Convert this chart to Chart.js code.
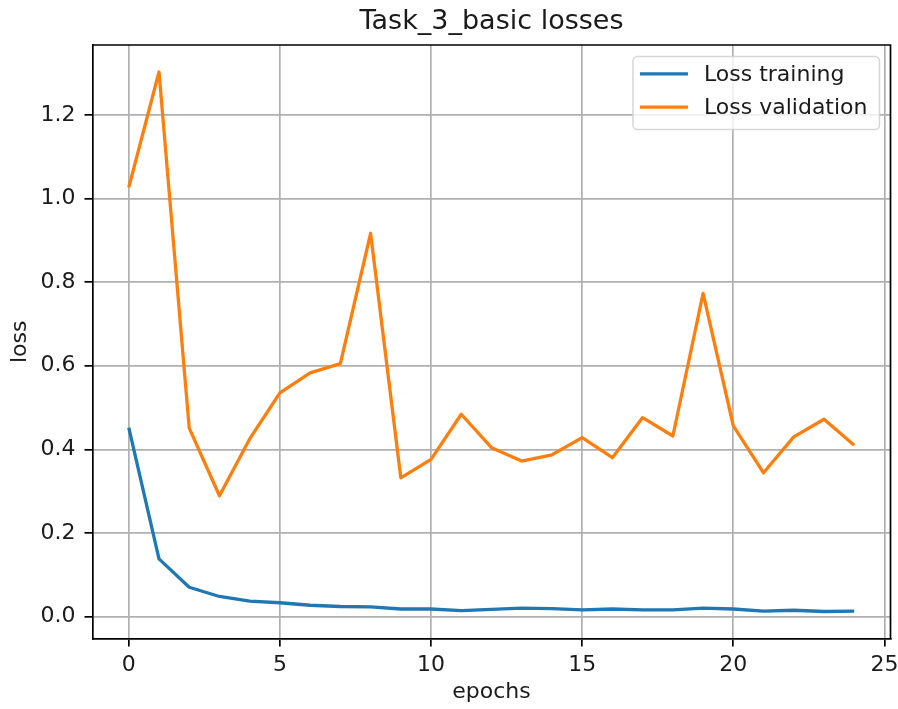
<!DOCTYPE html>
<html>
<head>
<meta charset="utf-8">
<title>Task_3_basic losses</title>
<script src="https://cdn.jsdelivr.net/npm/chart.js@4/dist/chart.umd.min.js"></script>
<style>
  html, body { margin: 0; padding: 0; background: #ffffff; }
  #wrap { width: 898px; height: 709px; }
  canvas { display: block; }
</style>
</head>
<body>
<div id="wrap"><canvas id="chart" width="898" height="709"></canvas></div>
<script>
// Per-epoch losses
const epochs = [0, 1, 2, 3, 4, 5, 6, 7, 8, 9, 10, 11, 12, 13, 14, 15, 16, 17, 18, 19, 20, 21, 22, 23, 24];
const lossTraining = [0.452, 0.138, 0.070, 0.048, 0.037, 0.033, 0.027, 0.024, 0.023, 0.018, 0.018, 0.014, 0.017, 0.020, 0.019, 0.016, 0.018, 0.016, 0.016, 0.020, 0.018, 0.013, 0.015, 0.012, 0.013];
const lossValidation = [1.027, 1.303, 0.451, 0.289, 0.425, 0.535, 0.583, 0.605, 0.917, 0.332, 0.376, 0.484, 0.404, 0.372, 0.387, 0.428, 0.380, 0.476, 0.432, 0.773, 0.456, 0.344, 0.430, 0.472, 0.410];

// Axis tick labels
const xTicks = [0, 5, 10, 15, 20, 25];
const yTicks = [0.0, 0.2, 0.4, 0.6, 0.8, 1.0, 1.2];

const chartTitle = 'Task_3_basic losses';
const xTitle = 'epochs';
const yTitle = 'loss';
const seriesNames = ['Loss training', 'Loss validation'];
const seriesColors = ['#1f77b4', '#ff7f0e'];

const FONT = 'DejaVu Sans';
const TEXT = '#1a1a1a';
const GRID = '#b0b0b0';
const LW = 1.7; // spine / grid / tick width

// 5% margins around the data range on both axes
const xMin = Math.min(...epochs), xMax = Math.max(...epochs);
const xPad = (xMax - xMin) * 0.05;
const allY = lossTraining.concat(lossValidation);
const yMin = Math.min(...allY), yMax = Math.max(...allY);
const yPad = (yMax - yMin) * 0.05;

const toPoints = (vals) => vals.map((v, i) => ({ x: epochs[i], y: v }));

// Title centred over the plotting area, plus the top/right spines
const framePlugin = {
  id: 'frame',
  afterDraw(chart) {
    const { ctx, chartArea: a } = chart;
    ctx.save();
    ctx.strokeStyle = '#000';
    ctx.lineWidth = LW;
    ctx.beginPath();
    ctx.moveTo(a.left, a.top);
    ctx.lineTo(a.right, a.top);
    ctx.lineTo(a.right, a.bottom);
    ctx.stroke();

    ctx.fillStyle = TEXT;
    ctx.font = '27px "' + FONT + '"';
    ctx.textAlign = 'center';
    ctx.textBaseline = 'alphabetic';
    ctx.fillText(chartTitle, (a.left + a.right) / 2, 28.5);
    ctx.restore();
  }
};

// Legend box in the upper-right corner of the axes
const legendPlugin = {
  id: 'boxLegend',
  afterDraw(chart) {
    const { ctx, chartArea: a } = chart;
    const ds = chart.data.datasets;
    ctx.save();
    ctx.font = '22px "' + FONT + '"';
    let textW = 0;
    ds.forEach(d => { textW = Math.max(textW, ctx.measureText(d.label).width); });
    const padL = 7, lineLen = 48, gap = 16, padR = 12;
    const w = padL + lineLen + gap + textW + padR;
    const h = 73;
    const x = a.right - 11 - w;
    const y = a.top + 11.5;
    const r = 4.5;
    ctx.beginPath();
    ctx.moveTo(x + r, y);
    ctx.lineTo(x + w - r, y);
    ctx.arcTo(x + w, y, x + w, y + r, r);
    ctx.lineTo(x + w, y + h - r);
    ctx.arcTo(x + w, y + h, x + w - r, y + h, r);
    ctx.lineTo(x + r, y + h);
    ctx.arcTo(x, y + h, x, y + h - r, r);
    ctx.lineTo(x, y + r);
    ctx.arcTo(x, y, x + r, y, r);
    ctx.closePath();
    ctx.fillStyle = 'rgba(255,255,255,0.8)';
    ctx.fill();
    ctx.strokeStyle = 'rgba(204,204,204,0.8)';
    ctx.lineWidth = 1.5;
    ctx.stroke();

    ds.forEach((d, i) => {
      const cy = y + 17.3 + i * 33.4;
      ctx.strokeStyle = d.borderColor;
      ctx.lineWidth = 3.3;
      ctx.lineCap = 'butt';
      ctx.beginPath();
      ctx.moveTo(x + padL, cy);
      ctx.lineTo(x + padL + lineLen, cy);
      ctx.stroke();
      ctx.fillStyle = TEXT;
      ctx.textAlign = 'left';
      ctx.textBaseline = 'middle';
      ctx.fillText(d.label, x + padL + lineLen + gap, cy + 1);
    });
    ctx.restore();
  }
};

new Chart(document.getElementById('chart'), {
  type: 'line',
  data: {
    datasets: [
      {
        label: seriesNames[0],
        data: toPoints(lossTraining),
        borderColor: seriesColors[0],
        backgroundColor: seriesColors[0],
        borderWidth: 3.3,
        pointRadius: 0,
        tension: 0,
        borderJoinStyle: 'round',
        order: 2
      },
      {
        label: seriesNames[1],
        data: toPoints(lossValidation),
        borderColor: seriesColors[1],
        backgroundColor: seriesColors[1],
        borderWidth: 3.3,
        pointRadius: 0,
        tension: 0,
        borderJoinStyle: 'round',
        order: 1
      }
    ]
  },
  options: {
    responsive: false,
    animation: false,
    layout: { padding: { top: 45, right: 7.5, left: 0, bottom: 0 } },
    plugins: {
      legend: { display: false },
      title: { display: false },
      tooltip: { enabled: false }
    },
    scales: {
      x: {
        type: 'linear',
        min: xMin - xPad,
        max: xMax + xPad,
        afterBuildTicks(scale) { scale.ticks = xTicks.map(v => ({ value: v })); },
        afterFit(scale) {
          scale.height = 70.5;
          // the last tick label may hang past the axis end; the layout padding covers it
          scale.paddingLeft = 0;
          scale.paddingRight = 0;
        },
        ticks: {
          font: { family: FONT, size: 22 },
          color: TEXT,
          padding: 6,
          maxRotation: 0,
          autoSkip: false,
          callback: (v) => String(v)
        },
        grid: { color: GRID, lineWidth: LW, tickLength: 8, tickColor: '#000', tickWidth: LW },
        border: { display: true, color: '#000', width: LW },
        title: { display: true, text: xTitle, font: { family: FONT, size: 22 }, color: TEXT, padding: { top: 0, bottom: 4 } }
      },
      y: {
        type: 'linear',
        min: yMin - yPad,
        max: yMax + yPad,
        afterBuildTicks(scale) { scale.ticks = yTicks.map(v => ({ value: v })); },
        afterFit(scale) {
          scale.width = 92.5;
          scale.paddingTop = 0;
          scale.paddingBottom = 0;
        },
        ticks: {
          font: { family: FONT, size: 22 },
          color: TEXT,
          padding: 9,
          autoSkip: false,
          callback: (v) => Number(v).toFixed(1)
        },
        grid: { color: GRID, lineWidth: LW, tickLength: 8, tickColor: '#000', tickWidth: LW },
        border: { display: true, color: '#000', width: LW },
        title: { display: true, text: yTitle, font: { family: FONT, size: 22 }, color: TEXT, padding: { top: 7, bottom: 0 } }
      }
    }
  },
  plugins: [framePlugin, legendPlugin]
});
</script>
</body>
</html>
